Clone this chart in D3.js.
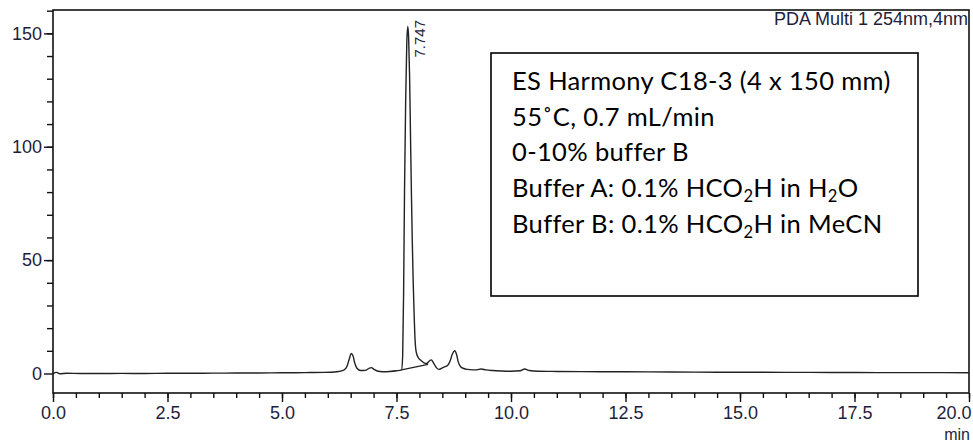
<!DOCTYPE html>
<html>
<head>
<meta charset="utf-8">
<script src="https://cdn.jsdelivr.net/npm/d3@7"></script>
<style>
  html, body { margin: 0; padding: 0; background: #fff; }
  svg { display: block; }
</style>
</head>
<body>
<svg id="chart" width="973" height="443"></svg>
<script>
// Retention time (min) and detector response (mAU) of the PDA trace
const times = [0.00, 0.08, 0.15, 0.30, 0.60, 1.00, 1.50, 2.00, 2.50, 3.00, 3.50, 4.00, 4.50, 5.00, 5.50, 5.90,
  6.20, 6.35, 6.42, 6.47, 6.51, 6.55, 6.59, 6.64, 6.72, 6.82, 6.90, 6.95, 7.01, 7.08, 7.20, 7.35, 7.50,
  7.61, 7.635, 7.655, 7.675, 7.700, 7.725, 7.747, 7.765, 7.785, 7.805, 7.825, 7.845, 7.865, 7.885, 7.905,
  7.93, 7.97, 8.03, 8.10, 8.16, 8.21, 8.26, 8.31, 8.37, 8.43, 8.49, 8.56, 8.62, 8.67, 8.72, 8.77, 8.81,
  8.85, 8.90, 8.97, 9.05, 9.15, 9.25, 9.35, 9.45, 9.60, 9.80, 10.00, 10.20, 10.30, 10.40, 10.60,
  11, 12, 13, 14, 15, 16, 17, 18, 19, 20];
const absorbance = [0.0, 0.5, -0.1, 0.1, 0.0, 0.0, 0.05, 0.0, 0.1, 0.1, 0.15, 0.2, 0.25, 0.3, 0.4, 0.5,
  0.8, 1.5, 3.2, 6.5, 8.8, 7.8, 4.5, 2.2, 1.3, 1.4, 2.3, 2.6, 1.8, 1.1, 0.8, 0.9, 1.2,
  1.6, 8, 35, 80, 120, 146, 153, 148, 132, 106, 80, 58, 40, 26, 15,
  9.5, 7.2, 5.8, 4.7, 4.4, 5.4, 6.0, 4.6, 2.6, 1.8, 2.4, 3.0, 3.6, 5.5, 8.6, 10, 8.5,
  5, 3, 2.2, 1.8, 1.6, 1.6, 2.0, 1.6, 1.3, 1.1, 1.0, 1.2, 2.0, 1.3, 1.0,
  0.9, 0.8, 0.7, 0.6, 0.55, 0.5, 0.45, 0.4, 0.4, 0.35];

// Integration baseline drawn under the main peak
const baselineTimes = [7.61, 8.19];
const baselineValues = [1.6, 4.0];

// Labelled peak
const peakTimes = [7.747];
const peakHeights = [153];
const peakLabels = ["7.747"];

// Axis ticks
const xMajorTicks = [0, 2.5, 5, 7.5, 10, 12.5, 15, 17.5, 20];
const xMinorTicks = d3.range(0, 20.001, 0.5);
const yMajorTicks = [0, 50, 100, 150];
const yMinorTicks = d3.range(10, 160.001, 10);

const channelTitle = "PDA Multi 1 254nm,4nm";
const xUnit = "min";

// Method notes; {2} marks a subscript 2
const noteLines = [
  "ES Harmony C18-3 (4 x 150 mm)",
  "55˚C, 0.7 mL/min",
  "0-10% buffer B",
  "Buffer A: 0.1% HCO{2}H in H{2}O",
  "Buffer B: 0.1% HCO{2}H in MeCN"
];

const svg = d3.select("#chart");
const plot = { left: 53, right: 969, top: 10, bottom: 393 };

const x = d3.scaleLinear().domain([0, 20]).range([plot.left, plot.right]);
const y = d3.scaleLinear().domain([-8.6, 160.3]).range([plot.bottom, plot.top]);

const labelFont = "'Liberation Sans', Arial, sans-serif";
const labelColor = "#1e1e3c";

// Frame
svg.append("rect")
  .attr("x", plot.left).attr("y", plot.top)
  .attr("width", plot.right - plot.left).attr("height", plot.bottom - plot.top)
  .attr("fill", "none").attr("stroke", "#111").attr("stroke-width", 1.6);

// X axis: minor ticks then major ticks with labels
const xMinorAxis = d3.axisBottom(x).tickValues(xMinorTicks).tickSize(5).tickFormat("");
const gxMinor = svg.append("g").attr("transform", `translate(0,${plot.bottom})`).call(xMinorAxis);
const xMajorAxis = d3.axisBottom(x).tickValues(xMajorTicks).tickSize(9).tickPadding(4).tickFormat(d3.format(".1f"));
const gx = svg.append("g").attr("transform", `translate(0,${plot.bottom})`).call(xMajorAxis);
[gxMinor, gx].forEach(g => {
  g.select(".domain").remove();
  g.selectAll(".tick line").attr("stroke", "#111").attr("stroke-width", 1.4);
});
gx.selectAll(".tick text")
  .attr("font-family", labelFont).attr("font-size", 18).attr("fill", labelColor);
// keep the last label inside the picture
gx.selectAll(".tick text").filter(d => d === 20).attr("text-anchor", "end").attr("dx", 2);

svg.append("text")
  .attr("x", plot.right + 1).attr("y", 440)
  .attr("text-anchor", "end")
  .attr("font-family", labelFont).attr("font-size", 16).attr("fill", labelColor)
  .text(xUnit);

// Y axis
const yMinorAxis = d3.axisLeft(y).tickValues(yMinorTicks).tickSize(6).tickFormat("");
const gyMinor = svg.append("g").attr("transform", `translate(${plot.left},0)`).call(yMinorAxis);
const yMajorAxis = d3.axisLeft(y).tickValues(yMajorTicks).tickSize(9).tickPadding(2).tickFormat(d3.format("d"));
const gy = svg.append("g").attr("transform", `translate(${plot.left},0)`).call(yMajorAxis);
[gyMinor, gy].forEach(g => {
  g.select(".domain").remove();
  g.selectAll(".tick line").attr("stroke", "#111").attr("stroke-width", 1.4);
});
gy.selectAll(".tick text")
  .attr("font-family", labelFont).attr("font-size", 18).attr("fill", labelColor);

// Channel title
svg.append("text")
  .attr("x", plot.right - 1).attr("y", 25)
  .attr("text-anchor", "end")
  .attr("font-family", labelFont).attr("font-size", 18).attr("fill", labelColor)
  .text(channelTitle);

// Chromatogram trace
const trace = times.map((t, i) => [t, absorbance[i]]);
const line = d3.line().x(d => x(d[0])).y(d => y(d[1])).curve(d3.curveMonotoneX);
svg.append("path")
  .datum(trace)
  .attr("d", line)
  .attr("fill", "none")
  .attr("stroke", "#222")
  .attr("stroke-width", 1.4)
  .attr("stroke-linejoin", "round");

// Integration baseline
svg.append("path")
  .datum(baselineTimes.map((t, i) => [t, baselineValues[i]]))
  .attr("d", d3.line().x(d => x(d[0])).y(d => y(d[1])))
  .attr("fill", "none").attr("stroke", "#222").attr("stroke-width", 1.2);

// Retention time labels, rotated, beside the apex
svg.selectAll("text.peak")
  .data(peakTimes)
  .join("text")
  .attr("class", "peak")
  .attr("transform", (d, i) => `translate(${x(d) + 17},${y(peakHeights[i]) + 31}) rotate(-90)`)
  .attr("font-family", labelFont).attr("font-size", 15).attr("fill", labelColor)
  .text((d, i) => peakLabels[i]);

// Method notes box
const box = { x: 491, y: 53, w: 427, h: 243 };
svg.append("rect")
  .attr("x", box.x).attr("y", box.y).attr("width", box.w).attr("height", box.h)
  .attr("fill", "#fff").attr("stroke", "#000").attr("stroke-width", 1.6);

const notes = svg.append("g")
  .attr("font-family", "Lato, 'Open Sans', sans-serif")
  .attr("font-size", 25.5)
  .attr("letter-spacing", 0.35)
  .attr("fill", "#000");
noteLines.forEach((ln, i) => {
  const t = notes.append("text").attr("x", box.x + 21).attr("y", box.y + 37 + i * 35.7);
  let shift = 0;
  ln.split(/(\{2\})/).forEach(part => {
    if (part === "{2}") {
      t.append("tspan").attr("font-size", 16.5).attr("dy", 5).text("2");
      shift = -5;
    } else if (part) {
      t.append("tspan").attr("dy", shift).text(part);
      shift = 0;
    }
  });
});
</script>
</body>
</html>
